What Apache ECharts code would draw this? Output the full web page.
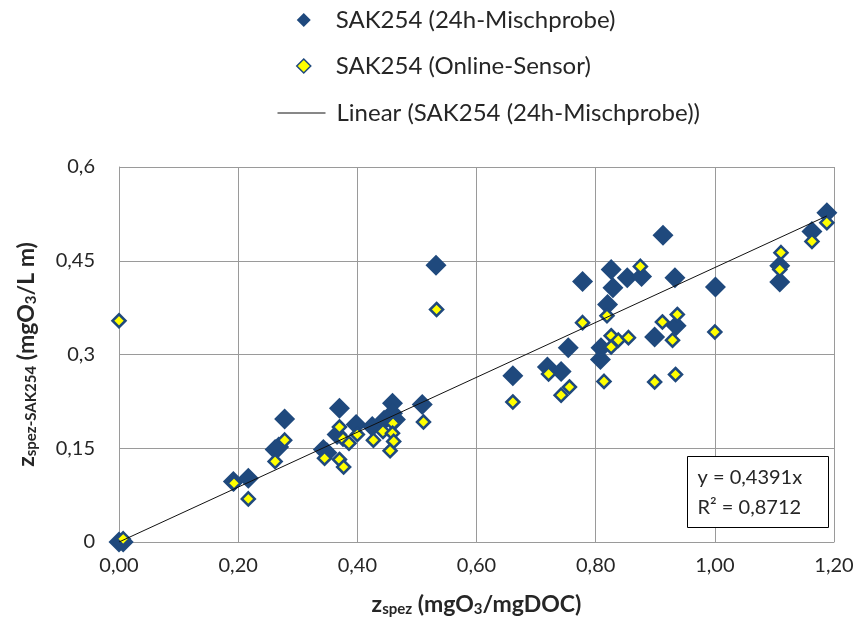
<!DOCTYPE html>
<html><head><meta charset="utf-8">
<script src="https://cdn.jsdelivr.net/npm/echarts@6/dist/echarts.min.js"></script>
<style>html,body{margin:0;padding:0;background:#fff}#c{width:859px;height:633px}</style>
</head><body><div id="c"></div>
<script>
const mischprobe = [
 [0,0],[0.007,0.0],
 [0.192,0.097],[0.217,0.102],
 [0.262,0.148],[0.268,0.152],[0.278,0.197],
 [0.343,0.148],[0.349,0.143],
 [0.370,0.214],[0.366,0.172],[0.398,0.188],[0.425,0.185],[0.445,0.195],
 [0.459,0.222],[0.459,0.206],[0.464,0.196],[0.509,0.220],
 [0.532,0.443],[0.661,0.266],
 [0.719,0.280],[0.742,0.273],[0.754,0.311],[0.778,0.417],
 [0.808,0.292],[0.809,0.311],[0.820,0.380],[0.826,0.436],[0.829,0.407],[0.853,0.423],[0.877,0.425],
 [0.899,0.328],[0.913,0.491],[0.933,0.423],[0.935,0.346],
 [1.001,0.408],[1.109,0.416],[1.109,0.442],[1.163,0.497],[1.188,0.527]
];
const online = [
 [0.007,0.005],[0,0.354],
 [0.193,0.094],[0.217,0.069],[0.262,0.129],[0.278,0.163],
 [0.345,0.134],[0.370,0.184],[0.376,0.165],[0.386,0.158],[0.400,0.172],[0.370,0.132],[0.377,0.120],
 [0.427,0.163],[0.443,0.177],[0.460,0.190],[0.459,0.174],[0.461,0.161],[0.455,0.146],
 [0.511,0.192],[0.533,0.372],[0.661,0.224],
 [0.721,0.269],[0.742,0.235],[0.756,0.248],[0.778,0.351],
 [0.814,0.257],[0.819,0.362],[0.826,0.330],[0.838,0.323],[0.826,0.312],[0.855,0.327],
 [0.875,0.441],[0.899,0.256],[0.912,0.352],[0.937,0.364],[0.929,0.323],[0.934,0.268],
 [1.000,0.336],[1.109,0.436],[1.111,0.463],[1.163,0.481],[1.188,0.511]
];
const slope = 0.4391;
const r2 = '0,8712';
const seriesNames = ['SAK254 (24h-Mischprobe)','SAK254 (Online-Sensor)','Linear (SAK254 (24h-Mischprobe))'];

const xs = mischprobe.map(p=>p[0]);
const xMin = Math.min(...xs), xMax = Math.max(...xs);
const trend = [[xMin, slope*xMin],[xMax, slope*xMax]];

const font = 'Lato, "Open Sans", sans-serif';
const blue = '#1F497D';
const txt = '#262626';
const chart = echarts.init(document.getElementById('c'), null, {renderer:'canvas'});
chart.setOption({
 animation:false,
 textStyle:{fontFamily:font},
 legend:[{
   orient:'vertical', left:296, top:8, itemGap:22, padding:0,
   itemWidth:14, itemHeight:14,
   data:[{name:seriesNames[0], icon:'diamond', itemStyle:{color:blue,borderWidth:0}},
         {name:seriesNames[1], icon:'diamond', itemStyle:{color:'#FFFF00',borderColor:blue,borderWidth:1.5}}],
   textStyle:{fontFamily:font, fontSize:24, color:txt, padding:[0,0,0,20]},
   selectedMode:false
 },{
   orient:'vertical', left:277, top:101, padding:0,
   itemWidth:48, itemHeight:14,
   data:[{name:seriesNames[2], itemStyle:{opacity:0}, lineStyle:{color:'#111', width:1}}],
   textStyle:{fontFamily:font, fontSize:24, color:txt, padding:[0,0,0,6]},
   selectedMode:false
 }],
 grid:{left:119, right:25, top:167, bottom:91, containLabel:false},
 xAxis:{
   type:'value', min:0, max:1.2, interval:0.2,
   axisLine:{show:true, lineStyle:{color:'#9a9a9a'}}, axisTick:{show:false},
   splitLine:{show:true, lineStyle:{color:'#9a9a9a', width:1}},
   axisLabel:{fontFamily:font, fontSize:20, color:txt, margin:14,
     formatter:v=>v.toFixed(2).replace('.',',')},
   name:'{b|z}{bs|spez}{b| (mgO}{bs|3}{b|/mgDOC)}', nameLocation:'middle', nameGap:50,
   nameTextStyle:{rich:{
     b:{fontFamily:font, fontSize:23, fontWeight:'bold', color:txt},
     bs:{fontFamily:font, fontSize:15, fontWeight:'bold', color:txt, padding:[10,0,0,0]}
   }}
 },
 yAxis:{
   type:'value', min:0, max:0.6, interval:0.15,
   axisLine:{show:true, lineStyle:{color:'#9a9a9a'}}, axisTick:{show:false},
   splitLine:{show:true, lineStyle:{color:'#9a9a9a', width:1}},
   axisLabel:{fontFamily:font, fontSize:20, color:txt, margin:24,
     formatter:v=>String(+v.toFixed(2)).replace('.',',')},
   name:'{b|z}{bs|spez-SAK254}{b| (mgO}{bs|3}{b|/L m)}', nameLocation:'middle', nameGap:80, nameRotate:90,
   nameTextStyle:{rich:{
     b:{fontFamily:font, fontSize:23, fontWeight:'bold', color:txt},
     bs:{fontFamily:font, fontSize:15, fontWeight:'bold', color:txt, padding:[10,0,0,0]}
   }}
 },
 series:[{
   name:seriesNames[0], type:'scatter', data:mischprobe, symbol:'diamond', symbolSize:21,
   itemStyle:{color:blue, opacity:1}, z:2
 },{
   name:seriesNames[1], type:'scatter', data:online, symbol:'diamond', symbolSize:13,
   itemStyle:{color:'#FFFF00', borderColor:blue, borderWidth:2.5, opacity:1}, z:3
 },{
   name:seriesNames[2], type:'line', data:trend, showSymbol:false, symbol:'none',
   lineStyle:{color:'#111', width:1}, itemStyle:{color:'#111'}, z:4
 }],
 graphic:[{
   type:'group', left:687, top:456, z:100,
   children:[
     {type:'rect', z:100, shape:{x:0,y:0,width:141,height:71}, style:{fill:'#fff', stroke:'#000', lineWidth:1}},
     {type:'text', z:101, x:10, y:11, style:{text:'y = ' + String(slope).replace('.',',') + 'x', font:'20px '+font, fill:txt}},
     {type:'text', z:101, x:10, y:41, style:{text:'R² = ' + r2, font:'20px '+font, fill:txt}}
   ]
 }]
});
</script></body></html>
